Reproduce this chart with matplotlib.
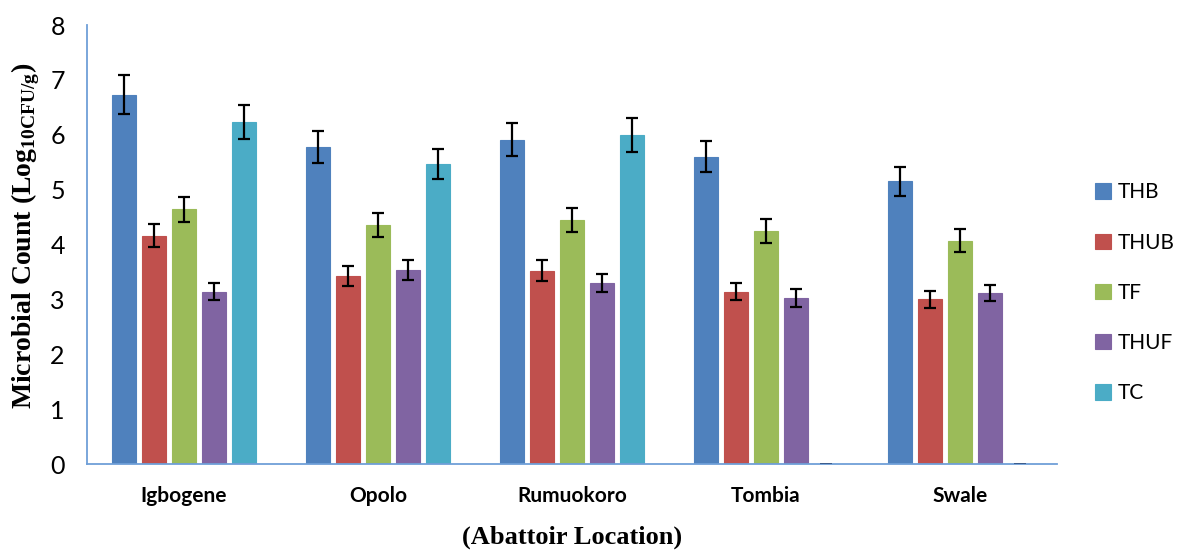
import numpy as np
import matplotlib
matplotlib.use('Agg')
import matplotlib.pyplot as plt

# data
locations = ['Igbogene', 'Opolo', 'Rumuokoro', 'Tombia', 'Swale']
series = ['THB', 'THUB', 'TF', 'THUF', 'TC']

thb = [6.73, 5.78, 5.91, 5.60, 5.15]
thub = [4.16, 3.43, 3.52, 3.14, 3.00]
tf = [4.64, 4.36, 4.45, 4.25, 4.07]
thuf = [3.14, 3.54, 3.30, 3.03, 3.12]
tc = [6.24, 5.47, 6.00, 0.0, 0.0]

thbErr = [0.35, 0.29, 0.30, 0.28, 0.26]
thubErr = [0.21, 0.18, 0.19, 0.16, 0.15]
tfErr = [0.23, 0.22, 0.22, 0.22, 0.21]
thufErr = [0.16, 0.18, 0.17, 0.16, 0.15]
tcErr = [0.31, 0.27, 0.31, 0.0, 0.0]

colours = ['#4F81BD', '#C0504D', '#9BBB59', '#8064A2', '#4BACC6']
axisBlue = '#6F9FD8'

plt.rcParams['mathtext.fontset'] = 'custom'
plt.rcParams['mathtext.rm'] = 'Liberation Serif:bold'

fig = plt.figure(figsize=(11.82, 5.52), dpi=100)
ax = fig.add_axes([0.0736, 0.1594, 0.8206, 0.7953])

x = np.arange(len(locations))
width = 0.124
step = 0.155
values = [thb, thub, tf, thuf, tc]
errors = [thbErr, thubErr, tfErr, thufErr, tcErr]

for i in range(len(series)):
    pos = x + (i - 2) * step
    vals = np.array(values[i])
    mask = vals > 0
    ax.bar(pos[mask], vals[mask], width, color=colours[i], label=series[i],
           edgecolor=colours[i], linewidth=0.8, zorder=2)
    # zero values show as a thin dark line like in the original
    if (~mask).any():
        ax.bar(pos[~mask], vals[~mask], width * 0.5, color=colours[i],
               edgecolor='#2F4F7F', linewidth=1.2, zorder=3)
    ax.errorbar(pos[mask], vals[mask], yerr=np.array(errors[i])[mask],
                fmt='none', ecolor='black', elinewidth=1.6, capsize=4.5,
                capthick=1.6, zorder=3)

ax.set_xlim(-0.5, len(locations) - 0.5)
ax.set_ylim(0, 8)
ax.set_yticks(range(0, 9))
ax.set_xticks(x)
ax.set_xticklabels(locations, fontfamily='Lato', fontweight='bold', fontsize=15)
for lab in ax.get_yticklabels():
    lab.set_fontfamily('Lato')
    lab.set_fontsize(18)
ax.tick_params(axis='both', length=0)
ax.tick_params(axis='y', pad=16)
ax.tick_params(axis='x', pad=16)

for side in ['top', 'right']:
    ax.spines[side].set_visible(False)
for side in ['left', 'bottom']:
    ax.spines[side].set_color(axisBlue)
    ax.spines[side].set_linewidth(1.3)

ax.set_ylabel(r'Microbial Count (Log$_{\mathrm{10CFU/g}}$)', fontfamily='Liberation Serif',
              fontweight='bold', fontsize=20, labelpad=4)
ax.yaxis.set_label_coords(-0.046, 0.52)
ax.set_xlabel('(Abattoir Location)', fontfamily='Liberation Serif', fontweight='bold',
              fontsize=19, labelpad=14)

leg = ax.legend(loc='center left', bbox_to_anchor=(1.02, 0.39), frameon=False,
                prop={'family': 'Lato', 'size': 15}, handlelength=0.75, handleheight=0.75,
                handletextpad=0.35, labelspacing=1.45)

fig.savefig('out.png', dpi=100)
